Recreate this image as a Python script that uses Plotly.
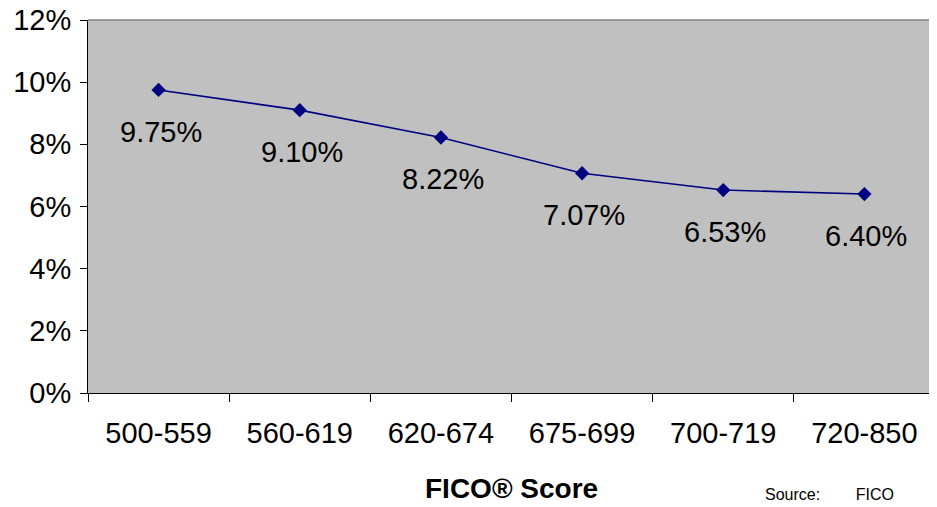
import plotly.graph_objects as go

categories = ["500-559", "560-619", "620-674", "675-699", "700-719", "720-850"]
rates = [9.75, 9.10, 8.22, 7.07, 6.53, 6.40]
label_texts = ["9.75%", "9.10%", "8.22%", "7.07%", "6.53%", "6.40%"]
y_ticks = [0, 2, 4, 6, 8, 10, 12]
y_tick_labels = ["0%", "2%", "4%", "6%", "8%", "10%", "12%"]

FONT = "Liberation Sans, Arial, sans-serif"

fig = go.Figure()
fig.add_trace(go.Scatter(
    x=list(range(len(categories))), y=rates, mode="lines+markers",
    line=dict(color="#000080", width=1.6),
    marker=dict(symbol="diamond", size=11, color="#000080"),
    hoverinfo="skip", showlegend=False,
))

for i, (v, t) in enumerate(zip(rates, label_texts)):
    fig.add_annotation(x=i, y=v, text=t, showarrow=False, xshift=2, yshift=-42,
                       font=dict(family=FONT, size=29, color="black"))

fig.add_annotation(xref="paper", yref="paper", x=0.5, y=-0.255, text="<b>FICO® Score</b>",
                   showarrow=False, xanchor="center", yanchor="middle",
                   font=dict(family=FONT, size=28, color="black"))
fig.add_annotation(xref="paper", yref="paper", x=0.875, y=-0.300, text="Source:        FICO",
                   showarrow=False, xanchor="center", yanchor="bottom",
                   font=dict(family=FONT, size=16, color="black"))

# page body adds an 8px margin; figure sized to fill the rest of the window
fig.update_layout(
    width=929, height=499,
    margin=dict(l=80, r=2, t=12, b=114),
    paper_bgcolor="white", plot_bgcolor="#C0C0C0",
    font=dict(family=FONT, size=29, color="black"),
    xaxis=dict(
        range=[-0.5, len(categories) - 0.5], automargin=False,
        tickmode="array", tickvals=list(range(len(categories))), ticktext=categories,
        showgrid=False, zeroline=False, showline=True, linecolor="black", linewidth=1,
        ticks="", mirror=False, ticklabelstandoff=14,
    ),
    yaxis=dict(
        range=[0, 12], tickmode="array", tickvals=y_ticks, ticktext=y_tick_labels,
        showgrid=False, zeroline=False, showline=True, linecolor="black", linewidth=1,
        ticks="outside", ticklen=7, tickcolor="black", automargin=False,
        ticklabelstandoff=3, ticklabeloverflow="allow",
    ),
)

# tick marks between categories on x axis
fig.update_xaxes(minor=dict(tickvals=[i + 0.5 for i in range(-1, len(categories))],
                            ticks="outside", ticklen=8, tickcolor="black", showgrid=False))

# gray border top and right
fig.add_shape(type="line", xref="paper", yref="paper", x0=0, x1=1, y0=1, y1=1,
              line=dict(color="#808080", width=1.5))
fig.add_shape(type="line", xref="paper", yref="paper", x0=1, x1=1, y0=0, y1=1,
              line=dict(color="#808080", width=1.5))

fig.write_html("out.html")
